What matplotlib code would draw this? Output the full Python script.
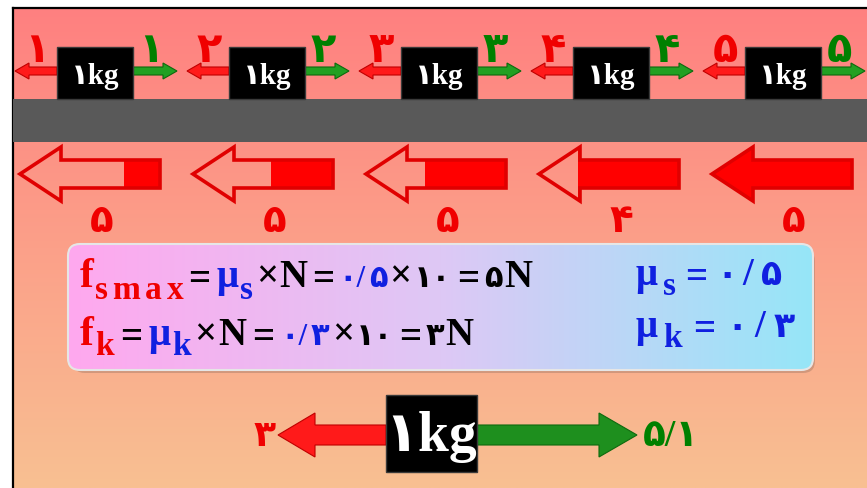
import numpy as np
import matplotlib
matplotlib.use("Agg")
import matplotlib.pyplot as plt
from matplotlib.patches import Rectangle, Polygon, FancyBboxPatch

# --- data (Persian digits as shown on the slide) ---
pull = ['۱', '۲', '۳', '۴', '۵']          # applied force, green
fric = ['۱', '۲', '۳', '۴', '۵']          # static friction, red
fs_label = ['۵', '۵', '۵', '۴', '۵']      # label under the big friction arrows
fs_fill = [0.26, 0.44, 0.58, 0.72, 1.0]  # filled part of each big arrow
mass = '۱kg'
final_fk = '۳'
final_pull = '۵/۱'

SERIF = ['Liberation Serif', 'DejaVu Sans']
RED = '#F00000'
GREEN = '#008000'
BLUE = '#1020E0'
K = 'black'
M, S, D = 28, 24, 22   # main, subscript, persian digit sizes in the box

W, H = 867, 489
fig = plt.figure(figsize=(W / 100, H / 100), dpi=100)
ax = fig.add_axes([0, 0, 1, 1])
R = fig.canvas.get_renderer()

# background gradient
t = np.linspace(0, 1, 200)[:, None, None]
top = np.array([255, 128, 128]) / 255
bot = np.array([248, 192, 146]) / 255
bg = np.repeat(top + (bot - top) * t, 2, axis=1)
ax.imshow(bg, extent=[13, W, H, 9], aspect='auto', zorder=0)
ax.plot([13, 13], [H, 9], color='k', lw=1.6, zorder=1)
ax.plot([13, W], [9, 9], color='k', lw=1.6, zorder=1)
ax.add_patch(Rectangle((13, 100), W - 13, 43, fc='#595959', ec='none', zorder=1))
ax.set_xlim(0, W)
ax.set_ylim(H, 0)


def block_arrow(x0, yc, length, body, head, head_len, color, edge, z=2):
    s = np.sign(length)
    L = abs(length)
    pts = [(0, -body), (L - head_len, -body), (L - head_len, -head), (L, 0),
           (L - head_len, head), (L - head_len, body), (0, body)]
    pts = [(x0 + s * px, yc + py) for px, py in pts]
    ax.add_patch(Polygon(pts, closed=True, fc=color, ec=edge, lw=0.8, zorder=z))


def run(x0, x1, y, parts):
    # lay the pieces out from x0 to x1; w = how much of the spare room goes before a piece
    texts = []
    for s, c, size, dy, w in parts:
        txt = ax.text(0, y + dy, s, color=c, fontsize=size, fontweight='bold',
                      family=SERIF, ha='left', va='baseline', zorder=6)
        texts.append((txt, txt.get_window_extent(renderer=R).width, w))
    spare = (x1 - x0) - sum(wd for _, wd, _ in texts)
    unit = max(spare, 0) / max(sum(w for _, _, w in texts[1:]), 1e-9)
    x = x0
    for j, (txt, wd, w) in enumerate(texts):
        if j:
            x += w * unit
        txt.set_x(x)
        x += wd


# top row: five blocks with applied force and friction
for i in range(5):
    bx = 57 + i * 172
    ax.add_patch(Rectangle((bx, 48), 76, 52, fc='black', ec='#3a3a3a', lw=1, zorder=3))
    ax.text(bx + 38, 76, mass, color='white', fontsize=21, fontweight='bold',
            family=SERIF, ha='center', va='center', zorder=4)
    block_arrow(bx, 72, -42, 4, 8, 14, '#FF1A1A', '#C00000')
    block_arrow(bx + 76, 72, 44, 4, 8, 14, '#22A022', '#0E6A0E')
    ax.text(bx - 20, 62, fric[i], color=RED, fontsize=30, fontweight='bold',
            family=SERIF, ha='center', va='baseline', zorder=4)
    ax.text(bx + 94, 62, pull[i], color=GREEN, fontsize=30, fontweight='bold',
            family=SERIF, ha='center', va='baseline', zorder=4)

# big friction arrows, partly filled
for i in range(5):
    xt = 20 + i * 173
    yc = 175
    pts = [(xt, yc), (xt + 41, yc - 27), (xt + 41, yc - 14), (xt + 140, yc - 14),
           (xt + 140, yc + 14), (xt + 41, yc + 14), (xt + 41, yc + 27)]
    fill = Polygon(pts, closed=True, fc='#FF0000', ec='none', zorder=2)
    ax.add_patch(fill)
    clip = Rectangle((xt + 140 * (1 - fs_fill[i]), yc - 30), 140 * fs_fill[i], 60,
                     transform=ax.transData)
    fill.set_clip_path(clip)
    ax.add_patch(Polygon(pts, closed=True, fc='none', ec='#E00000', lw=2.6,
                         joinstyle='miter', zorder=3))
    ax.text(xt + 82, 232, fs_label[i], color=RED, fontsize=28, fontweight='bold',
            family=SERIF, ha='center', va='baseline', zorder=4)

# formula box
ax.add_patch(FancyBboxPatch((73, 250), 742, 124, boxstyle='round,pad=0,rounding_size=12',
                            fc='#8a6a5a', ec='none', alpha=0.35, zorder=3))
box = FancyBboxPatch((68, 245), 745, 126, boxstyle='round,pad=0,rounding_size=12',
                     fc='none', ec='#E6E6E6', lw=1.5, zorder=5)
ax.add_patch(box)
gx = np.linspace(0, 1, 300)
stops = np.array([[255, 168, 238], [222, 200, 245], [150, 230, 248]]) / 255
cols = np.stack([np.interp(gx, [0, 0.5, 1], stops[:, k]) for k in range(3)], axis=-1)
im = ax.imshow(np.repeat(cols[None, :, :], 2, axis=0), extent=[68, 813, 371, 245],
               aspect='auto', zorder=4)
im.set_clip_path(box)

# f_s,max = mu_s x N = 0.5 x 10 = 5N
run(80, 532, 287, [('f', RED, M + 2, 0, 0), ('s', RED, S, 12, 0.2), ('m', RED, S, 12, 1),
                   ('a', RED, S, 12, 1), ('x', RED, S, 12, 1), ('=', K, M, 3, 1),
                   ('μ', BLUE, M, 0, 1.3), ('s', BLUE, S, 12, 0.2), ('×', K, M, 0, 0.6),
                   ('N', K, M, 0, 0.2), ('=', K, M, 3, 1), ('۰/', BLUE, D, 0, 1),
                   ('۵', BLUE, D, 0, 0.6), ('×', K, M, 0, 0.4), ('۱۰', K, D, 0, 0.4),
                   ('=', K, M, 3, 1.4), ('۵', K, D, 0, 1), ('N', K, M, 0, 0.2)])
# f_k = mu_k x N = 0.3 x 10 = 3N
run(80, 473, 345, [('f', RED, M + 2, 0, 0), ('k', RED, S, 10, 0.2), ('=', K, M, 3, 1),
                   ('μ', BLUE, M, 0, 1.2), ('k', BLUE, S, 10, 0.2), ('×', K, M, 0, 0.6),
                   ('N', K, M, 0, 0.2), ('=', K, M, 3, 1), ('۰/', BLUE, D, 0, 1),
                   ('۳', BLUE, D, 0, 0.6), ('×', K, M, 0, 0.4), ('۱۰', K, D, 0, 0.4),
                   ('=', K, M, 3, 1), ('۳', K, D, 0, 0.6), ('N', K, M, 0, 0.2)])
# coefficients on the right
run(636, 782, 285, [('μ', BLUE, M, 0, 0), ('s', BLUE, S, 10, 0.5), ('=', BLUE, M, 3, 1),
                    ('۰', BLUE, D + 3, 0, 1), ('/', BLUE, M, 0, 0.6), ('۵', BLUE, D + 3, 0, 0.8)])
run(636, 795, 337, [('μ', BLUE, M, 0, 0), ('k', BLUE, S, 10, 0.5), ('=', BLUE, M, 3, 1),
                    ('۰', BLUE, D + 3, 0, 1), ('/', BLUE, M, 0, 0.6), ('۳', BLUE, D + 3, 0, 0.8)])

# final state
ax.add_patch(Rectangle((386, 396), 91, 77, fc='black', ec='#3a3a3a', lw=1, zorder=3))
ax.text(431, 437, mass, color='white', fontsize=40, fontweight='bold',
        family=SERIF, ha='center', va='center', zorder=4)
block_arrow(386, 436, -108, 10, 22, 37, '#FF1A1A', '#C00000')
block_arrow(477, 436, 160, 10, 22, 38, '#1E8F1E', '#0E6A0E')
ax.text(265, 446, final_fk, color=RED, fontsize=26, fontweight='bold',
        family=SERIF, ha='center', va='baseline', zorder=4)
ax.text(643, 446, final_pull, color=GREEN, fontsize=27, fontweight='bold',
        family=SERIF, ha='left', va='baseline', zorder=4)

ax.axis('off')
fig.savefig('out.png', dpi=100)
